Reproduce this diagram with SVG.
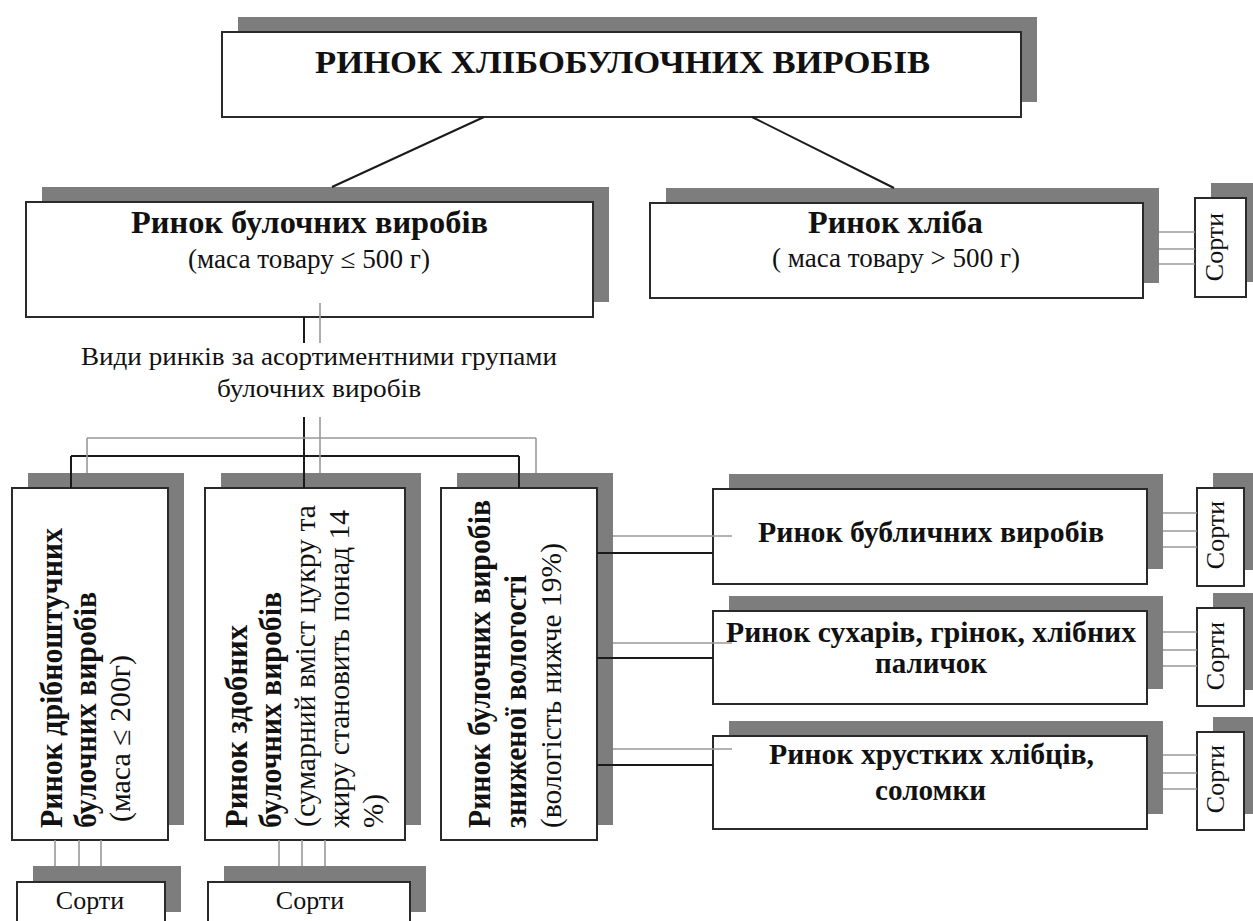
<svg xmlns="http://www.w3.org/2000/svg" width="1253" height="921" viewBox="0 0 1253 921" font-family="'Liberation Serif', 'Times New Roman', 'DejaVu Serif', serif">
<style>
.sh{fill:#7d7d7d}
.bx{fill:#fff;stroke:#2a2a2a;stroke-width:2}
text{font-family:'Liberation Serif','Times New Roman','DejaVu Serif',serif;fill:#111}
.b{font-weight:bold}
.k{stroke:#1a1a1a;stroke-width:2;fill:none}
.g{stroke:#999;stroke-width:1.6;fill:none}
</style>
<rect width="1253" height="921" fill="#fff"/>
<g id="root">
<rect class="sh" x="238" y="17" width="799" height="85"/>
<rect class="bx" x="222" y="32" width="799" height="85"/>
<text class="b" x="315" y="73" font-size="32" textLength="615" lengthAdjust="spacingAndGlyphs">РИНОК  ХЛІБОБУЛОЧНИХ  ВИРОБІВ</text>
</g>
<g id="bulochni">
<rect class="sh" x="42" y="187" width="567" height="115"/>
<rect class="bx" x="26" y="202" width="567" height="115"/>
<text class="b" x="131" y="233" font-size="31" textLength="357" lengthAdjust="spacingAndGlyphs">Ринок булочних виробів</text>
<text x="188" y="268" font-size="27" textLength="242" lengthAdjust="spacingAndGlyphs">(маса товару ≤ 500 г)</text>
</g>
<g id="khlib">
<rect class="sh" x="666" y="188" width="493" height="95"/>
<rect class="bx" x="650" y="203" width="493" height="95"/>
<text class="b" x="808" y="233" font-size="31" textLength="175" lengthAdjust="spacingAndGlyphs">Ринок хліба</text>
<text x="772" y="267" font-size="27" textLength="248" lengthAdjust="spacingAndGlyphs">( маса товару &gt; 500 г)</text>
</g>
<g id="sorti-khlib">
<rect class="sh" x="1211" y="183" width="51" height="99"/>
<rect class="bx" x="1195" y="198" width="51" height="99"/>
<text transform="translate(1223,247) rotate(-90)" text-anchor="middle" font-size="26">Сорти</text>
</g>
<g id="label-vydy">
<text x="81" y="365" font-size="26" textLength="476" lengthAdjust="spacingAndGlyphs">Види ринків за асортиментними групами</text>
<text x="217" y="397" font-size="26" textLength="204" lengthAdjust="spacingAndGlyphs">булочних виробів</text>
</g>
<g id="dribnoshtuchni">
<rect class="sh" x="28" y="473" width="156" height="352"/>
<rect class="bx" x="12" y="488" width="156" height="352"/>
<text class="b" transform="translate(62,828) rotate(-90)" font-size="31" textLength="300" lengthAdjust="spacingAndGlyphs">Ринок дрібноштучних</text>
<text class="b" transform="translate(96,828) rotate(-90)" font-size="31" textLength="236" lengthAdjust="spacingAndGlyphs">булочних виробів</text>
<text transform="translate(130,822) rotate(-90)" font-size="29" textLength="167" lengthAdjust="spacingAndGlyphs">(маса ≤ 200г)</text>
</g>
<g id="zdobni">
<rect class="sh" x="221" y="473" width="200" height="352"/>
<rect class="bx" x="205" y="488" width="200" height="352"/>
<text class="b" transform="translate(247,828) rotate(-90)" font-size="31" textLength="203" lengthAdjust="spacingAndGlyphs">Ринок  здобних</text>
<text class="b" transform="translate(281,828) rotate(-90)" font-size="31" textLength="236" lengthAdjust="spacingAndGlyphs">булочних виробів</text>
<text transform="translate(315,827) rotate(-90)" font-size="29" textLength="322" lengthAdjust="spacingAndGlyphs">(сумарний вміст цукру та</text>
<text transform="translate(349,828) rotate(-90)" font-size="29" textLength="318" lengthAdjust="spacingAndGlyphs">жиру становить понад 14</text>
<text transform="translate(383,828) rotate(-90)" font-size="29">%)</text>
</g>
<g id="znyzhena">
<rect class="sh" x="457" y="473" width="156" height="352"/>
<rect class="bx" x="441" y="488" width="156" height="352"/>
<text class="b" transform="translate(490,828) rotate(-90)" font-size="31" textLength="328" lengthAdjust="spacingAndGlyphs">Ринок булочних виробів</text>
<text class="b" transform="translate(526,828) rotate(-90)" font-size="31" textLength="253" lengthAdjust="spacingAndGlyphs">зниженої вологості</text>
<text transform="translate(561,828) rotate(-90)" font-size="29" textLength="285" lengthAdjust="spacingAndGlyphs">(вологість нижче 19%)</text>
</g>
<g id="bublychni">
<rect class="sh" x="729" y="474" width="434" height="95"/>
<rect class="bx" x="713" y="489" width="434" height="95"/>
<text class="b" x="758" y="542" font-size="30" textLength="346" lengthAdjust="spacingAndGlyphs">Ринок бубличних виробів</text>
</g>
<g id="sukhari">
<rect class="sh" x="729" y="596" width="434" height="93"/>
<rect class="bx" x="713" y="611" width="434" height="93"/>
<text class="b" x="726" y="642" font-size="30" textLength="410" lengthAdjust="spacingAndGlyphs">Ринок сухарів, грінок, хлібних</text>
<text class="b" x="875" y="673" font-size="30" textLength="112" lengthAdjust="spacingAndGlyphs">паличок</text>
</g>
<g id="khlibtsi">
<rect class="sh" x="729" y="721" width="434" height="93"/>
<rect class="bx" x="713" y="736" width="434" height="93"/>
<text class="b" x="769" y="764" font-size="30" textLength="325" lengthAdjust="spacingAndGlyphs">Ринок хрустких хлібців,</text>
<text class="b" x="875" y="800" font-size="30" textLength="111" lengthAdjust="spacingAndGlyphs">соломки</text>
</g>
<g id="sorti-1">
<rect class="sh" x="1213" y="473" width="47" height="97"/>
<rect class="bx" x="1197" y="488" width="47" height="98"/>
<text transform="translate(1224,535) rotate(-90)" text-anchor="middle" font-size="26">Сорти</text>
</g>
<g id="sorti-2">
<rect class="sh" x="1213" y="593" width="47" height="97"/>
<rect class="bx" x="1197" y="608" width="47" height="98"/>
<text transform="translate(1224,656) rotate(-90)" text-anchor="middle" font-size="26">Сорти</text>
</g>
<g id="sorti-3">
<rect class="sh" x="1213" y="717" width="47" height="97"/>
<rect class="bx" x="1197" y="732" width="47" height="98"/>
<text transform="translate(1224,779) rotate(-90)" text-anchor="middle" font-size="26">Сорти</text>
</g>
<g id="sorti-4">
<rect class="sh" x="33" y="866" width="148" height="46"/>
<rect class="bx" x="17" y="882" width="148" height="50"/>
<text x="90" y="909" text-anchor="middle" font-size="26">Сорти</text>
</g>
<g id="sorti-5">
<rect class="sh" x="224" y="866" width="202" height="46"/>
<rect class="bx" x="208" y="882" width="202" height="50"/>
<text x="310" y="909" text-anchor="middle" font-size="26">Сорти</text>
</g>
<g id="connectors">
<path class="k" d="M484 117 L332 187 M752 117 L894 188"/>
<path class="k" d="M304 317 V343 M304 417 V488 M71 456 H519 M71 456 V488 M519 456 V488"/>
<path class="g" d="M320 303 V343 M320 417 V473 M87 438 H536 M87 438 V473 M536 438 V473"/>
<path class="k" d="M597 553 H713 M597 658 H713 M597 765 H713"/>
<path class="g" d="M613 536 H732 M613 643 H732 M613 749 H732"/>
<path class="g" d="M1159 232 H1195 M1159 249 H1195 M1159 264 H1195"/>
<path class="g" d="M1163 513 H1197 M1163 531 H1197 M1163 547 H1197"/>
<path class="g" d="M1163 632 H1197 M1163 650 H1197 M1163 666 H1197"/>
<path class="g" d="M1163 755 H1197 M1163 773 H1197 M1163 789 H1197"/>
<path class="g" d="M55 840 V866 M79 840 V866 M101 840 V866"/>
<path class="g" d="M279 840 V866 M302 840 V866 M325 840 V866"/>
</g>
</svg>
